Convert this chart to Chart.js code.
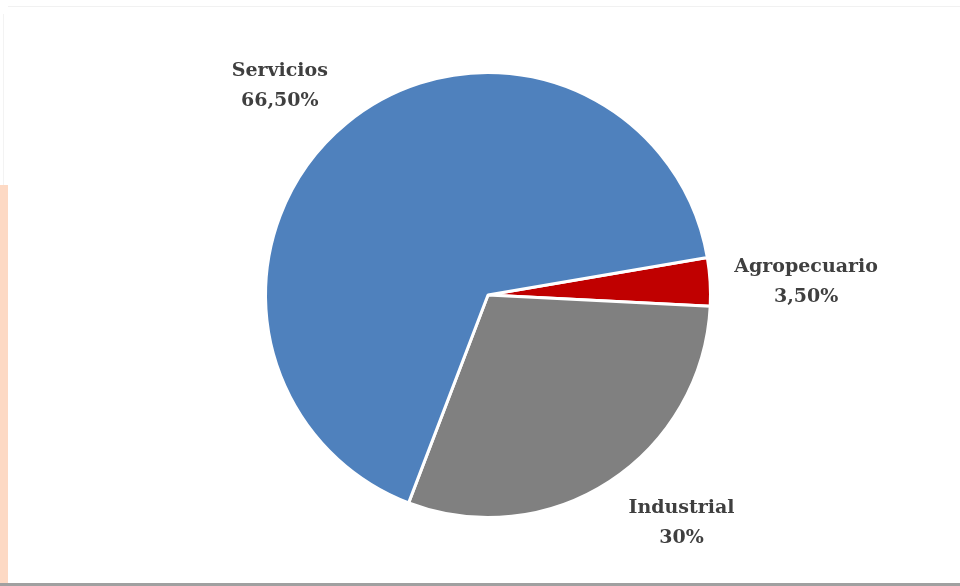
<!DOCTYPE html>
<html>
<head>
<meta charset="utf-8">
<script src="https://cdn.jsdelivr.net/npm/chart.js@4"></script>
<style>
  html, body { margin: 0; padding: 0; background: #fff; }
  #wrap { position: relative; width: 960px; height: 586px; overflow: hidden; }
  #strip { position: absolute; left: 0; top: 185px; width: 8px; height: 401px; background: #fdd9c4; }
  #topline { position: absolute; left: 8px; top: 6px; width: 952px; height: 1px; background: #f1f1f1; }
  #sideline { position: absolute; left: 3px; top: 14px; width: 1px; height: 171px; background: #f3f3f3; }
  #bottom { position: absolute; left: 0; top: 583px; width: 960px; height: 3px; background: #a0a0a0; }
  canvas { position: absolute; left: 0; top: 0; }
</style>
</head>
<body>
<div id="wrap">
  <div id="strip"></div>
  <div id="topline"></div>
  <div id="sideline"></div>
  <div id="bottom"></div>
  <canvas id="myChart" width="960" height="586"></canvas>
</div>
<script>
// Datos
const labels = ['Agropecuario', 'Industrial', 'Servicios'];
const values = [3.5, 30, 66.5];
const valueLabels = ['3,50%', '30%', '66,50%'];
const colors = ['#c00000', '#808080', '#4f81bd'];

// desplazamiento de cada etiqueta respecto al borde del sector (px)
const labelOffsets = [[96, 0], [72, 42], [-67, -37]];

const outsideLabels = {
  id: 'outsideLabels',
  afterDatasetsDraw(chart) {
    const ctx = chart.ctx;
    const arcs = chart.getDatasetMeta(0).data;
    ctx.save();
    ctx.fillStyle = '#3f3f3f';
    ctx.font = 'bold 19px "DejaVu Serif"';
    ctx.textAlign = 'center';
    ctx.textBaseline = 'middle';
    arcs.forEach((arc, i) => {
      const p = arc.getProps(['x', 'y', 'startAngle', 'endAngle', 'outerRadius'], true);
      const mid = (p.startAngle + p.endAngle) / 2;
      const x = p.x + Math.cos(mid) * p.outerRadius + labelOffsets[i][0];
      const y = p.y + Math.sin(mid) * p.outerRadius + labelOffsets[i][1];
      ctx.fillText(labels[i], x, y - 15);
      ctx.fillText(valueLabels[i], x, y + 15);
    });
    ctx.restore();
  }
};

const ctx = document.getElementById('myChart').getContext('2d');
const myChart = new Chart(ctx, {
  type: 'pie',
  data: {
    labels: labels,
    datasets: [{
      data: values,
      backgroundColor: colors,
      borderColor: '#ffffff',
      borderWidth: 3
    }]
  },
  options: {
    responsive: false,
    animation: false,
    rotation: 80.3,
    layout: { padding: { left: 264, right: 248, top: 71, bottom: 67 } },
    plugins: {
      legend: { display: false },
      tooltip: { enabled: false }
    }
  },
  plugins: [outsideLabels]
});
</script>
</body>
</html>
